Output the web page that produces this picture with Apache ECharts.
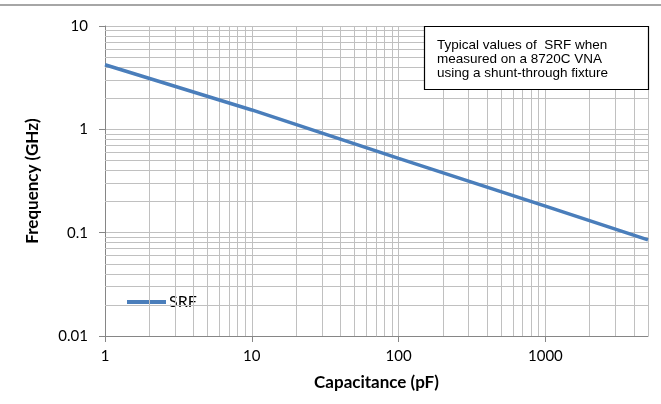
<!DOCTYPE html>
<html>
<head>
<meta charset="utf-8">
<script src="https://cdn.jsdelivr.net/npm/echarts@6/dist/echarts.min.js"></script>
<style>
    html, body { margin: 0; padding: 0; background: #fff; }
    #chart { width: 661px; height: 404px; }
</style>
</head>
<body>
<div id="chart"></div>
<script>
    // capacitance (pF) and typical SRF (GHz)
    const capacitance = [1, 10, 100, 1000, 5000];
    const srf = [4.22, 1.54, 0.524, 0.181, 0.085];

    // minor grid positions (Excel style 2..9 per decade)
    const xMinor = [2, 3, 4, 5, 6, 7, 8, 9, 20, 30, 40, 50, 60, 70, 80, 90,
        200, 300, 400, 500, 600, 700, 800, 900, 2000, 3000, 4000, 5000];
    const yMinor = [0.02, 0.03, 0.04, 0.05, 0.06, 0.07, 0.08, 0.09,
        0.2, 0.3, 0.4, 0.5, 0.6, 0.7, 0.8, 0.9, 2, 3, 4, 5, 6, 7, 8, 9];

    const noteLines = ['Typical values of  SRF when', 'measured on a 8720C VNA', 'using a shunt-through fixture'];

    const gridColor = '#c0c0c0';
    const axisColor = '#868686';
    const font = 'Lato';

    const myChart = echarts.init(document.getElementById('chart'));

    let minorLines = [];
    xMinor.forEach(v => minorLines.push({ xAxis: v }));
    yMinor.forEach(v => minorLines.push({ yAxis: v }));

    const option = {
        animation: false,
        grid: {
            left: 105,
            right: 13,
            top: 26,
            bottom: 68
        },
        legend: {
            data: ['SRF'],
            left: 127,
            top: 294,
            padding: 0,
            icon: 'rect',
            itemWidth: 39,
            itemHeight: 4,
            itemStyle: { borderWidth: 0, color: '#4a7ebb' },
            textStyle: {
                fontFamily: font,
                fontSize: 16,
                color: '#000',
                padding: [0, 0, 0, -2]
            }
        },
        xAxis: {
            type: 'log',
            logBase: 10,
            min: 1,
            max: 5000,
            name: 'Capacitance (pF)',
            nameLocation: 'middle',
            nameGap: 38,
            nameTextStyle: {
                fontFamily: font,
                fontSize: 17,
                fontWeight: 'bold',
                color: '#000'
            },
            axisLine: { lineStyle: { color: axisColor } },
            axisTick: { length: 6, lineStyle: { color: axisColor } },
            axisLabel: {
                fontFamily: font,
                fontSize: 15,
                color: '#000',
                margin: 13,
                showMaxLabel: false,
                formatter: v => String(v)
            },
            splitLine: { show: true, lineStyle: { color: gridColor } }
        },
        yAxis: {
            type: 'log',
            logBase: 10,
            min: 0.01,
            max: 10,
            name: 'Frequency (GHz)',
            nameLocation: 'middle',
            nameGap: 64,
            nameTextStyle: {
                fontFamily: font,
                fontSize: 17,
                fontWeight: 'bold',
                color: '#000'
            },
            axisLine: { show: true, lineStyle: { color: axisColor } },
            axisTick: { show: true, length: 6, lineStyle: { color: axisColor } },
            axisLabel: {
                fontFamily: font,
                fontSize: 15,
                color: '#000',
                margin: 17,
                formatter: v => String(v)
            },
            splitLine: { show: true, lineStyle: { color: gridColor } }
        },
        series: [
            {
                name: 'minor',
                type: 'line',
                z: 1,
                silent: true,
                symbol: 'none',
                lineStyle: { opacity: 0 },
                data: capacitance.map((c, i) => [c, srf[i]]),
                markLine: {
                    silent: true,
                    symbol: ['none', 'none'],
                    label: { show: false },
                    lineStyle: { color: gridColor, type: 'solid', width: 1 },
                    data: minorLines
                }
            },
            {
                name: 'SRF',
                type: 'line',
                z: 5,
                symbol: 'none',
                color: '#4a7ebb',
                lineStyle: { width: 3.5, color: '#4a7ebb' },
                data: capacitance.map((c, i) => [c, srf[i]])
            }
        ],
        graphic: [
            {
                type: 'line',
                shape: { x1: 0, y1: 5, x2: 661, y2: 5 },
                style: { stroke: '#a6a6a6', lineWidth: 2 }
            },
            {
                type: 'rect',
                z: 10,
                shape: { x: 424.5, y: 26.5, width: 224, height: 63 },
                style: { fill: '#fff', stroke: '#000', lineWidth: 1.2 }
            },
            {
                type: 'text',
                z: 11,
                left: 437,
                top: 38,
                style: {
                    text: noteLines.join('\n'),
                    font: '13.5px "Liberation Sans", Arial, sans-serif',
                    lineHeight: 14,
                    fill: '#000'
                }
            }
        ]
    };

    myChart.setOption(option);
</script>
</body>
</html>
